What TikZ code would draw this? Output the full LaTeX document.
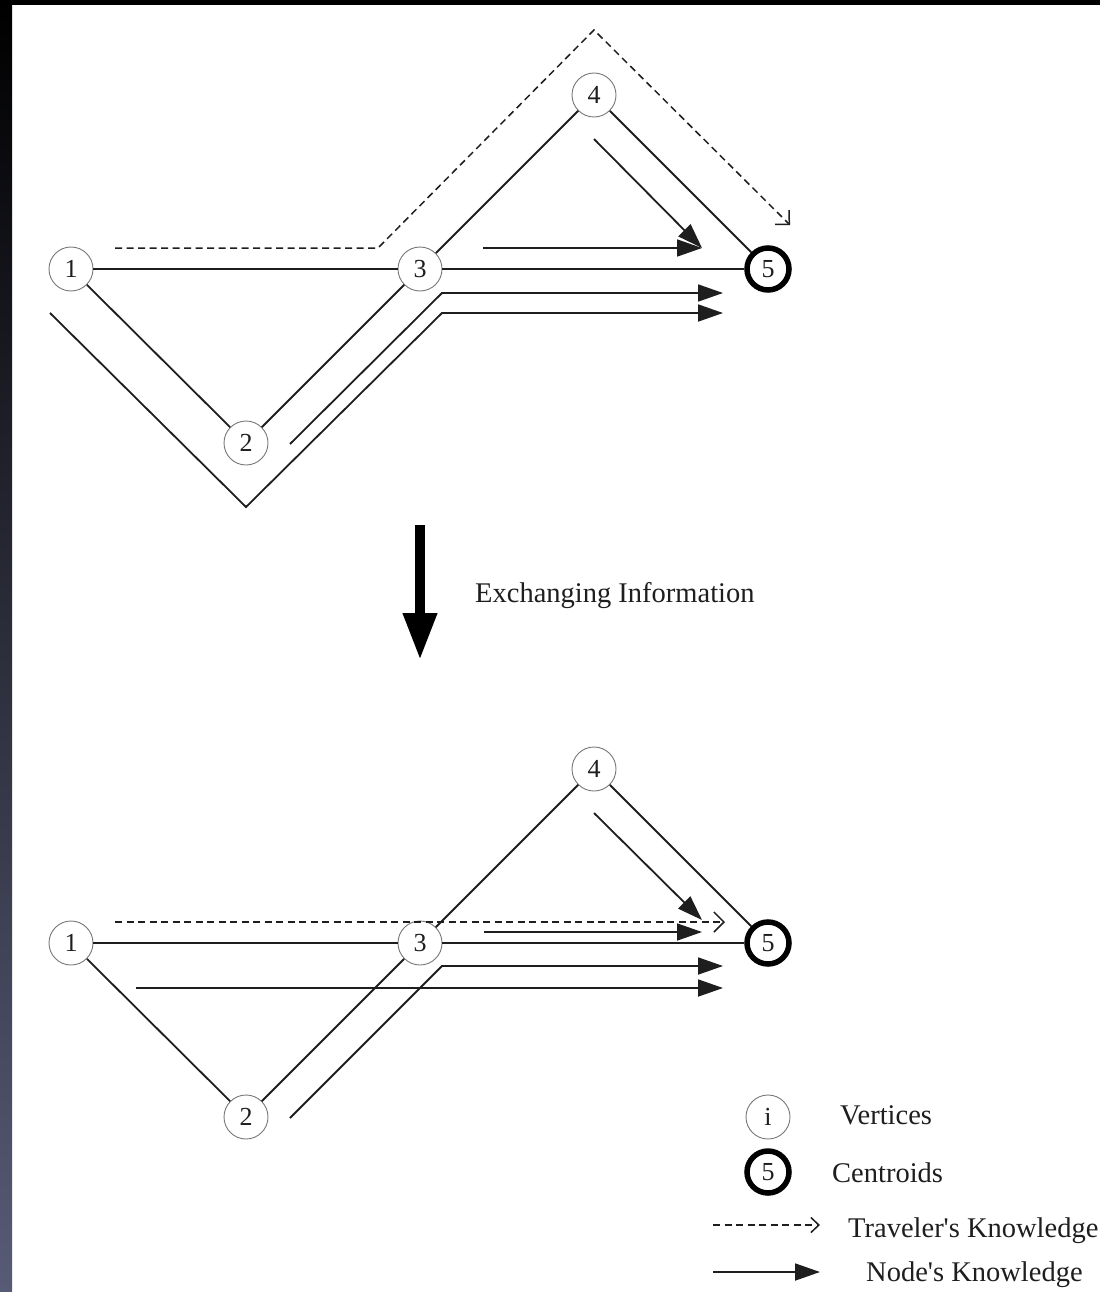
\documentclass[tikz,border=0pt]{standalone}
\usepackage{fontspec}
\setmainfont{Liberation Serif}
\usetikzlibrary{arrows.meta}
\definecolor{ink}{RGB}{30,30,30}
\definecolor{ringgray}{RGB}{120,120,120}
\definecolor{slatebot}{RGB}{88,91,118}
\definecolor{slatemid}{RGB}{22,24,52}
\begin{document}
\begin{tikzpicture}[x=1pt,y=-1pt,
  vert/.style={circle,draw=ringgray,line width=0.9pt,fill=white,minimum size=44pt,inner sep=0pt,text=ink,font=\fontsize{26}{26}\selectfont},
  cent/.style={circle,draw=black,line width=5.5pt,fill=white,minimum size=42pt,inner sep=0pt,text=ink,font=\fontsize{26}{26}\selectfont},
  edgeline/.style={draw=ink,line width=1.8pt},
  know/.style={draw=ink,line width=1.8pt,-{Triangle[length=25pt,width=17pt]}},
  trav/.style={draw=ink,line width=1.5pt,dash pattern=on 7pt off 4.5pt,-{Straight Barb[length=10pt,width=20pt]}},
  lbl/.style={text=ink,inner sep=0pt,anchor=base west,font=\fontsize{28.5}{30}\selectfont},
]
\useasboundingbox (0,0) rectangle (1100,1292);
\clip (0,0) rectangle (1100,1292);
% background frame
\fill[white] (0,0) rectangle (1100,1292);
\fill[black] (0,0) rectangle (1100,5);
\shade[top color=black,middle color=slatemid,bottom color=slatebot] (0,0) rectangle (12,1292);

% ---------- top diagram ----------
\node[vert] (t1) at (71,269) {1};
\node[vert] (t2) at (246,443) {2};
\node[vert] (t3) at (420,269) {3};
\node[vert] (t4) at (594,95) {4};
\node[cent] (t5) at (768,269) {5};
\draw[edgeline] (t1) -- (t3);
\draw[edgeline] (t1) -- (t2);
\draw[edgeline] (t2) -- (t3);
\draw[edgeline] (t3) -- (t4);
\draw[edgeline] (t4) -- (t5);
\draw[edgeline] (t3) -- (t5);

\coordinate (ta0) at (115,248);
\coordinate (ta1) at (378,248);
\coordinate (ta2) at (594,30);
\coordinate (ta3) at (790,225);
\draw[trav] (ta0) -- (ta1) -- (ta2) -- (ta3);

\coordinate (tb0) at (50,313);
\coordinate (tb1) at (246,507);
\coordinate (tb2) at (442,313);
\coordinate (tb3) at (723,313);
\draw[know] (tb0) -- (tb1) -- (tb2) -- (tb3);

\coordinate (tc0) at (290,444);
\coordinate (tc1) at (442,293);
\coordinate (tc2) at (723,293);
\draw[know] (tc0) -- (tc1) -- (tc2);

\coordinate (td0) at (483,248);
\coordinate (td1) at (702,248);
\draw[know] (td0) -- (td1);

\coordinate (te0) at (594,139);
\coordinate (te1) at (702,248);
\draw[know] (te0) -- (te1);

% ---------- exchange arrow ----------
\coordinate (x0) at (420,525);
\coordinate (x1) at (420,660);
\draw[black,line width=10pt,-{Triangle[length=47pt,width=32pt]}] (x0) -- (x1);
\node[lbl] (xl) at (475,602) {Exchanging Information};

% ---------- bottom diagram ----------
\node[vert] (b1) at (71,943) {1};
\node[vert] (b2) at (246,1117) {2};
\node[vert] (b3) at (420,943) {3};
\node[vert] (b4) at (594,769) {4};
\node[cent] (b5) at (768,943) {5};
\draw[edgeline] (b1) -- (b3);
\draw[edgeline] (b1) -- (b2);
\draw[edgeline] (b2) -- (b3);
\draw[edgeline] (b3) -- (b4);
\draw[edgeline] (b4) -- (b5);
\draw[edgeline] (b3) -- (b5);

\coordinate (ba0) at (115,922);
\coordinate (ba1) at (725,922);
\draw[trav] (ba0) -- (ba1);

\coordinate (bb0) at (484,932);
\coordinate (bb1) at (702,932);
\draw[know] (bb0) -- (bb1);

\coordinate (bc0) at (594,813);
\coordinate (bc1) at (702,920);
\draw[know] (bc0) -- (bc1);

\coordinate (bd0) at (290,1118);
\coordinate (bd1) at (442,966);
\coordinate (bd2) at (723,966);
\draw[know] (bd0) -- (bd1) -- (bd2);

\coordinate (be0) at (136,988);
\coordinate (be1) at (723,988);
\draw[know] (be0) -- (be1);

% ---------- legend ----------
\node[vert] (li) at (768,1117) {i};
\node[lbl] (lv) at (840,1124) {Vertices};
\node[cent] (lc) at (768,1172) {5};
\node[lbl] (lcl) at (832,1182) {Centroids};
\coordinate (lt0) at (713,1225);
\coordinate (lt1) at (820,1225);
\draw[trav,-{Straight Barb[length=8pt,width=15pt]}] (lt0) -- (lt1);
\node[lbl] (ltl) at (848,1237) {Traveler\textquotesingle s Knowledge};
\coordinate (ln0) at (713,1272);
\coordinate (ln1) at (820,1272);
\draw[know] (ln0) -- (ln1);
\node[lbl] (lnl) at (866,1281) {Node\textquotesingle s Knowledge};
\end{tikzpicture}
\end{document}
